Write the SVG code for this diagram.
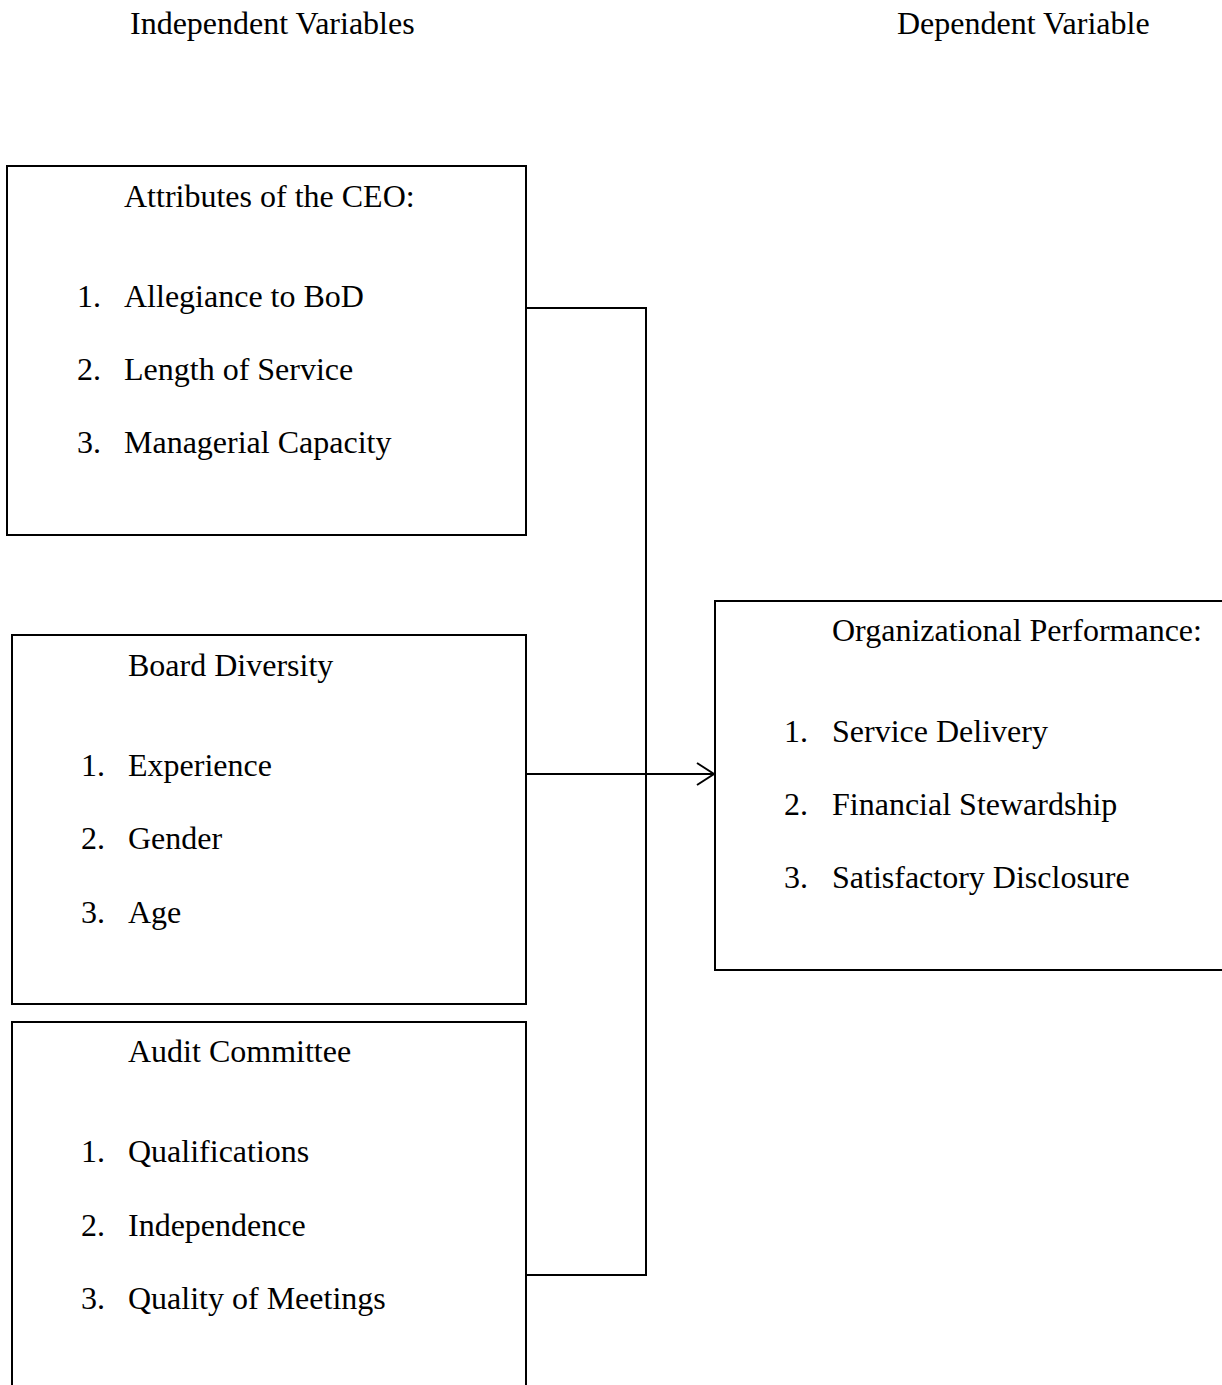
<svg xmlns="http://www.w3.org/2000/svg" width="1222" height="1385" viewBox="0 0 1222 1385">
<style>
text{font-family:"Liberation Serif","Times New Roman",serif;font-size:32px;fill:#000}
.box{fill:#fff;stroke:#000;stroke-width:2}
.ln{fill:none;stroke:#000;stroke-width:2}
</style>
<defs>
<marker id="arr" markerWidth="20" markerHeight="24" refX="18" refY="12" orient="auto" markerUnits="userSpaceOnUse">
<path d="M1,1 L18,12 L1,23" fill="none" stroke="#000" stroke-width="2"/>
</marker>
</defs>
<rect width="1222" height="1385" fill="#fff"/>
<g id="headers">
<text x="130" y="34">Independent Variables</text>
<text x="897" y="34">Dependent Variable</text>
</g>
<g id="connectors">
<path class="ln" d="M526,308 H646 V1275 H526"/>
<path class="ln" d="M526,774 H714" marker-end="url(#arr)"/>
</g>
<g id="ceo">
<rect class="box" x="7" y="166" width="519" height="369"/>
<text x="124" y="207">Attributes of the CEO:</text>
<text x="77" y="307">1.</text><text x="124" y="307">Allegiance to BoD</text>
<text x="77" y="380">2.</text><text x="124" y="380">Length of Service</text>
<text x="77" y="453">3.</text><text x="124" y="453">Managerial Capacity</text>
</g>
<g id="board">
<rect class="box" x="12" y="635" width="514" height="369"/>
<text x="128" y="676">Board Diversity</text>
<text x="81" y="776">1.</text><text x="128" y="776">Experience</text>
<text x="81" y="849">2.</text><text x="128" y="849">Gender</text>
<text x="81" y="923">3.</text><text x="128" y="923">Age</text>
</g>
<g id="audit">
<rect class="box" x="12" y="1022" width="514" height="420"/>
<text x="128" y="1062">Audit Committee</text>
<text x="81" y="1162">1.</text><text x="128" y="1162">Qualifications</text>
<text x="81" y="1236">2.</text><text x="128" y="1236">Independence</text>
<text x="81" y="1309">3.</text><text x="128" y="1309">Quality of Meetings</text>
</g>
<g id="performance">
<rect class="box" x="715" y="601" width="560" height="369"/>
<text x="832" y="641">Organizational Performance:</text>
<text x="784" y="742">1.</text><text x="832" y="742">Service Delivery</text>
<text x="784" y="815">2.</text><text x="832" y="815">Financial Stewardship</text>
<text x="784" y="888">3.</text><text x="832" y="888">Satisfactory Disclosure</text>
</g>
</svg>
